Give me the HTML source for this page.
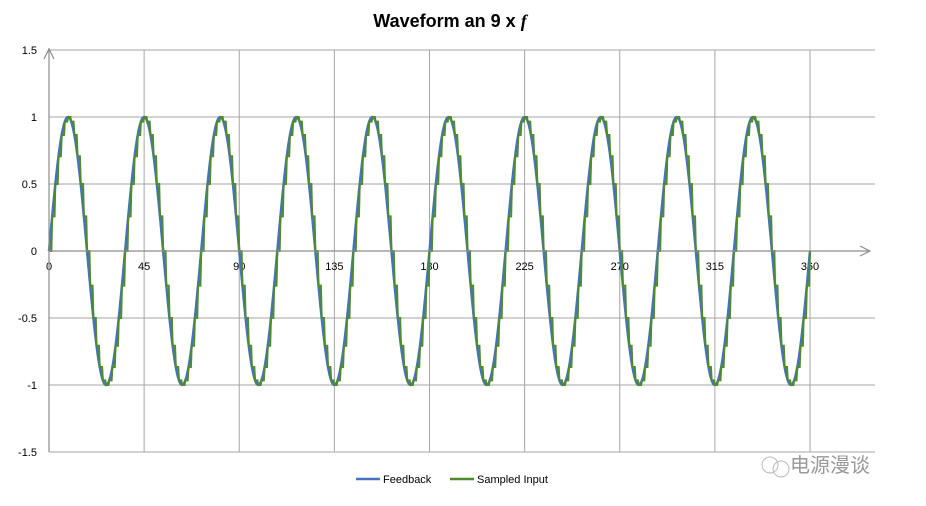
<!DOCTYPE html>
<html><head><meta charset="utf-8"><style>
body{margin:0;background:#fff;}
svg{display:block;font-family:"Liberation Sans",Arial,sans-serif;}
</style></head><body>
<svg id="s" width="926" height="506" viewBox="0 0 926 506">
<text x="450" y="27" text-anchor="middle" font-size="18" font-weight="bold">Waveform an 9 x <tspan font-style="italic" font-family="Liberation Serif,serif">f</tspan></text>
<g id="grid" stroke="#a6a6a6" stroke-width="1"></g>
<g id="lab" font-size="11" fill="#000"></g>
<path id="blue" fill="none" stroke="#4472c4" stroke-width="2.5"/>
<path id="green" fill="none" stroke="#4f8a2b" stroke-width="2"/>
<line x1="49" y1="251" x2="868" y2="251" stroke="#8c8c8c" stroke-width="1.2"/>
<path d="M860,246 L870,251 L860,256" fill="none" stroke="#8c8c8c" stroke-width="1.2"/>
<line x1="49" y1="452" x2="49" y2="48" stroke="#8c8c8c" stroke-width="1.2"/>
<path d="M44,59 L49,49 L54,59" fill="none" stroke="#8c8c8c" stroke-width="1.2"/>
<line x1="356" y1="479" x2="380" y2="479" stroke="#4472c4" stroke-width="2.5"/>
<text x="383" y="483" font-size="11">Feedback</text>
<line x1="450" y1="479" x2="474" y2="479" stroke="#4f8a2b" stroke-width="2.5"/>
<text x="477" y="483" font-size="11">Sampled Input</text>
<circle cx="770" cy="465" r="8" fill="none" stroke="#bbb"/>
<circle cx="781" cy="469" r="8" fill="none" stroke="#bbb"/>
<text x="790" y="472" font-size="20" fill="#999" font-family="Liberation Sans,'Noto Sans CJK SC',sans-serif">电源漫谈</text>
</svg>
<script>
var X=function(d){return 49+d*(761/360);},Y=function(v){return 251-v*134;};
var g=document.getElementById('grid'),l=document.getElementById('lab'),h='',t='';
for(var i=0;i<=8;i++){var x=X(i*45);if(i>0)h+='<line x1="'+x+'" y1="50" x2="'+x+'" y2="452"/>';t+='<text x="'+x+'" y="270" text-anchor="middle">'+i*45+'</text>';}
var vals=[1.5,1,0.5,0,-0.5,-1,-1.5];
vals.forEach(function(v){var y=Y(v);if(v!=0)h+='<line x1="49" y1="'+y+'" x2="875" y2="'+y+'"/>';t+='<text x="37" y="'+(y+4)+'" text-anchor="end">'+v+'</text>';});
g.innerHTML=h;l.innerHTML=t;
var F=10,b='',gr='';
for(var d=0;d<=360;d+=0.25){var v=Math.sin(F*d*Math.PI/180);b+=(d?'L':'M')+X(d).toFixed(2)+','+Y(v).toFixed(2);}
var st=1.5;
for(var d=0;d<360-1e-9;d+=st){var v=Math.sin(F*d*Math.PI/180);
gr+=(d?'L':'M')+X(d).toFixed(2)+','+Y(v).toFixed(2)+'L'+X(d+st*0.75).toFixed(2)+','+Y(v).toFixed(2);}
gr+='L'+X(360)+','+Y(0);
document.getElementById('blue').setAttribute('d',b);
document.getElementById('green').setAttribute('d',gr);
</script>
</body></html>
